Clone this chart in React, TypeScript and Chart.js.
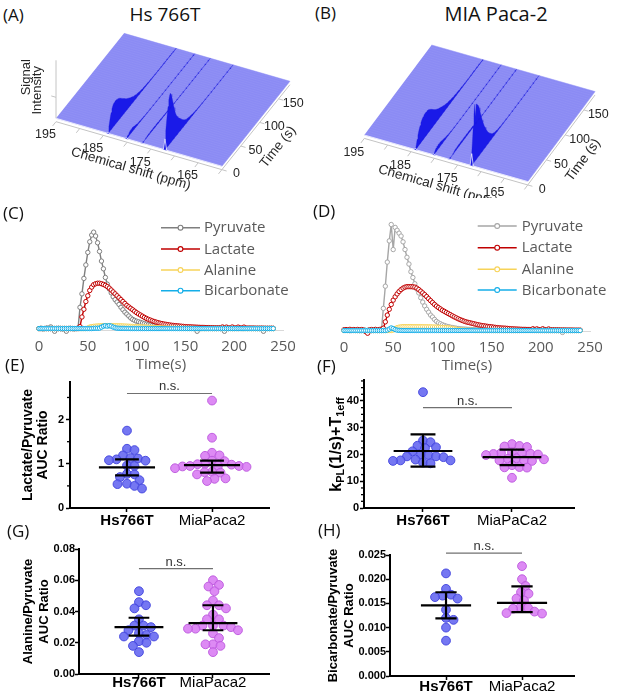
import React, { useEffect, useRef } from "react";
import { Chart, registerables } from "chart.js";
Chart.register(...registerables);

const FONT_ARIAL = '"Liberation Sans", Arial, sans-serif';
const FONT_OPEN = '"Open Sans", sans-serif';

// ---------------- time courses (C: Hs 766T, D: MIA Paca-2), a.u. ----------------
const timeS = [
  0, 2, 4, 6, 8, 10, 12, 14, 16, 18,
  20, 22, 24, 26, 28, 30, 32, 34, 36, 38,
  40, 42, 44, 46, 48, 50, 52, 54, 56, 58,
  60, 62, 64, 66, 68, 70, 72, 74, 76, 78,
  80, 82, 84, 86, 88, 90, 92, 94, 96, 98,
  100, 102, 104, 106, 108, 110, 112, 114, 116, 118,
  120, 122, 124, 126, 128, 130, 132, 134, 136, 138,
  140, 142, 144, 146, 148, 150, 152, 154, 156, 158,
  160, 162, 164, 166, 168, 170, 172, 174, 176, 178,
  180, 182, 184, 186, 188, 190, 192, 194, 196, 198,
  200, 202, 204, 206, 208, 210, 212, 214, 216, 218,
  220, 222, 224, 226, 228, 230, 232, 234, 236, 238,
  240,
];

const pyruvateC = [
  0, 0.4, -0.3, 0, 0.6, 0, 1.7, 0, -2.8, 0,
  0.3, 0, -0.4, 0, -2.8, 0, 0.3, 0, -0.3, 0,
  0.5, 22, 36, 52, 66, 79, 90, 97, 100, 96,
  89, 80, 70, 62, 53, 46, 41, 37, 33, 30,
  27.5, 25, 22, 19.5, 17, 15, 13, 11, 9.5, 8.5,
  7.6, 7, 6.3, 5.7, 5.1, 4.5, 4, 3.6, 3.1, 2.8,
  2.5, 2.2, 2, 1.8, 1.6, 1.4, 1.2, 1.1, 1, 0.9,
  0.8, 0.7, 0.6, 0.5, 0.5, 0.4, 0.3, 0.3, 0.2, 0.2,
  0.2, -2.8, 0.1, 0, 0.2, 0, 0.1, 0, 0.2, 0,
  0.1, 0, 0.2, 0, 0, -2.8, 0.1, 0, 0.2, 0,
  0, 0.1, 0, 0.2, 0, 0, 0.1, 0, 0.2, 0,
  0.1, 0, 0, 0, 0.2, -2.8, 0, 0.1, 0, 0.2,
  0,
];
const lactateC = [
  0, 0, 0, 0, 0, 0, 0, 0, 0, 0,
  0, 0, 0, 0, 0, 0, 0, 0, 0, 0,
  0, 2, 12, 20, 28, 34, 39.5, 43, 45.5, 46.5,
  47, 47, 46.5, 45.8, 44.8, 43.5, 42, 40, 38, 36,
  34, 32, 30, 28, 26, 24, 22.5, 21, 19.5, 18,
  16.5, 15.2, 14, 12.8, 11.6, 10.5, 9.6, 8.8, 8, 7.3,
  6.7, 6.1, 5.6, 5.1, 4.7, 4.4, 4, 3.7, 3.4, 3.2,
  3, 2.8, 2.6, 2.4, 2.2, 2, 1.9, 1.8, 1.7, 1.6,
  1.5, 1.4, 1.3, 1.2, 1.2, 1.1, 1, 1, 0.9, 0.9,
  0.8, 0.8, 0.8, 0.7, 1.6, 0.7, 1.5, 0.7, 0.6, 1.6,
  0.6, 0.6, 1.5, 0.6, 0.5, 1.5, 0.5, 0.5, 0.5, 0.5,
  0.5, 0.4, 0.4, 0.4, 0.4, 0.4, 0.3, 0.3, 0.3, 0.3,
  0.3,
];
const alanineC = [
  0, 0, 0, 0, 0, 0, 0, 0, 0, 0,
  0, 0, 0, 0, 0, 0, 0, 0, 0, 0,
  0, 0, 0, 0, 0, 0.5, 1.5, 2, 2.3, 2.5,
  2.7, 2.8, 3, 3, 3, 3.1, 3, 3, 3, 2.9,
  2.9, 2.8, 2.8, 2.7, 2.6, 2.5, 2.4, 2.3, 2.2, 2.1,
  2, 1.9, 1.8, 1.7, 1.6, 1.5, 1.4, 1.3, 1.2, 1.1,
  1, 0.9, 0.8, 0.7, 0.6, 0.5, 0.5, 0.4, 0.4, 0.3,
  0.3, 0.3, 0.2, 0.2, 0.2, 0.2, 0.1, 0.1, 0.1, 0.1,
  0, 0, 0, 0, 0, 0, 0, 0, 0, 0,
  0, 0, 0, 0, 0, 0, 0, 0, 0, 0,
  0, 0, 0, 0, 0, 0, 0, 0, 0, 0,
  0, 0, 0, 0, 0, 0, 0, 0, 0, 0,
  0,
];
const bicarbonateC = [
  0, 0, 0, 0, 0, 0, 0, 0, 0, 0,
  0, 0, 0, 0, 0, 0, 0, 0, 0, 0,
  0, 0, 0, 0, 0, 0, 0, 0, 0.2, 0.3,
  0.3, 0.5, 1.5, 2.5, 3, 2.5, 3, 2.5, 1.5, 0.8,
  0.4, 0.3, 0.2, 0.2, 0.1, 0.1, 0.1, 0, 0, 0,
  0, 0, 0, 0, 0, 0, 0, 0, 0, 0,
  0, 0, 0, 0, 0, 0, 0, 0, 0, 0,
  0, 0, 0, 0, 0, 0, 0, 0, 0, 0,
  0, 0, 0, 0, 0, 0, 0, 0, 0, 0,
  0, 0, 0, 0, 0, 0, 0, 0, 0, 0,
  0, 0, 0, 0, 0, 0, 0, 0, 0, 0,
  0, 0, 0, 0, 0, 0, 0, 0, 0, 0,
  0,
];

const pyruvateD = [
  0, 0.2, 0, -0.2, 0, 0.2, 0, 0, -0.2, 0,
  0, 0.2, 0, -0.3, 0, 0, 0.2, 0, 0, 0,
  23, 46, 71, 93, 110, 84, 107, 104, 101, 98,
  92, 84, 76, 69, 61, 55, 48.5, 43, 39, 34,
  29.5, 25.5, 22, 19, 16, 14, 11.5, 9.5, 8, 7,
  6, 5.2, 4.5, 4, 3.5, 3.1, 2.7, 2.4, 2.1, 1.8,
  1.6, 1.5, 1.4, 1.2, 1.1, 1, 0.9, 0.8, 0.7, 0.6,
  0.5, 0.5, 0.4, 0.4, 0.3, 0.3, 0.3, 0.2, 0.2, 0.2,
  0.2, 0.1, 0.1, 0.1, 0.1, 0, 0, 0, 0, 0,
  0, 0, 0, 0, 0, 0, 0, 0, 0, 0,
  0, 0, 0, 0, 0, 0, 0, 0, 0, 0,
  0, -2, 0, 0, 0, 0, 0, 0, 0, 0,
  0,
];
const lactateD = [
  0.8, 1, 0.6, 1.2, 0.8, 1, 0.6, 1.1, 0.8, 1,
  0.6, -1, -2.8, 0.8, 1, 0.6, 1.2, 0.8, 1, 1.4,
  2.4, 9, 16, 22, 27, 31.5, 35, 38, 40.5, 42.5,
  44, 45, 45.5, 45.5, 45.5, 45.3, 45, 44, 42.5, 40.8,
  39, 37.2, 35.2, 33, 31, 29, 27, 25.3, 23.8, 22.4,
  21, 19.9, 18.7, 17.6, 16.5, 15.3, 14.2, 13.2, 12.2, 11.3,
  10.5, 9.7, 9, 8.5, 8, 7.5, 7, 6.5, 6, 5.6,
  5.2, 4.9, 4.6, 4.3, 4, 3.8, 3.5, 3.2, 3, 2.8,
  2.6, 2.5, 2.4, 2.2, 2, 1.8, 1.7, 1.6, 1.5, 1.4,
  1.3, 1.2, 1.2, 1.1, 1.1, 1, 1.8, 1, 1.7, 1,
  0.9, 1.8, 0.9, 0.8, 1.6, 0.8, 0.8, 0.7, 0.7, 0.7,
  0.6, 0.6, 0.6, 0.5, 0.5, 0.5, 0.5, 0.4, 0.4, 0.4,
  0.4,
];
const alanineD = [
  0, 0, 0, 0, 0, 0, 0, 0, 0, 0,
  0, 0, 0, 0, 0, 0, 0, 0, 0, 0,
  0, 0, 0, 0, 0, 0.5, 2, 3, 3.5, 3.8,
  4, 4, 4, 4.1, 4.1, 4, 4, 4, 4, 4,
  4, 3.9, 3.9, 3.8, 3.8, 3.7, 3.6, 3.5, 3.4, 3.3,
  3.2, 3.1, 3, 2.8, 2.5, 2.2, 1.8, 1.4, 1, 0.7,
  0.5, 0.4, 0.3, 0.2, 0.2, 0.1, 0.1, 0, 0, 0,
  0, 0, 0, 0, 0, 0, 0, 0, 0, 0,
  0, 0, 0, 0, 0, 0, 0, 0, 0, 0,
  0, 0, 0, 0, 0, 0, 0, 0, 0, 0,
  0, 0, 0, 0, 0, 0, 0, 0, 0, 0,
  0, 0, 0, 0, 0, 0, 0, 0, 0, 0,
  0,
];
const bicarbonateD = [
  0, 0, 0, 0, 0, 0, 0, 0, 0, 0,
  0, 0, 0, 0, 0, 0, 0, 0, 0, 0,
  0, 0, 0.5, 1.5, 2.7, 2, 1, 0.4, 0.2, 0.1,
  0, 0, 0, 0, 0, 0, 0, 0, 0, 0,
  0, 0, 0, 0, 0, 0, 0, 0, 0, 0,
  0, 0, 0, 0, 0, 0, 0, 0, 0, 0,
  0, 0, 0, 0, 0, 0, 0, 0, 0, 0,
  0, 0, 0, 0, 0, 0, 0, 0, 0, 0,
  0, 0, 0, 0, 0, 0, 0, 0, 0, 0,
  0, 0, 0, 0, 0, 0, 0, 0, 0, 0,
  0, 0, 0, 0, 0, 0, 0, 0, 0, 0,
  0, 0, 0, 0, 0, 0, 0, 0, 0, 0,
  0,
];

const metaboliteNames = ["Pyruvate", "Lactate", "Alanine", "Bicarbonate"];
const timeTicks = [0, 50, 100, 150, 200, 250];

// ---------------- 3D spectra (A, B) ----------------
const shiftLactate = 184.0;
const shiftHydrate = 180.1;
const shiftAlanine = 176.8;
const shiftPyruvate = 172.0;
const hydrateRatio = 0.08;
const ppmRange = [195, 160];
const ppmTickValues = [195, 190, 185, 180, 175, 170, 165, 160];
const ppmLabelValues = [195, 185, 175, 165];
const time3DRange = [0, 180];
const time3DLabels = [0, 50, 100, 150];

// ---------------- AUC / kPL scatter (E-H) ----------------
const groupsEH = ["Hs766T", "MiaPaca2"];
const groupsF = ["Hs766T", "MiaPaCa2"];

const lacPyrHs = [1.75, 1.34, 1.31, 1.19, 1.13, 1.12, 1.10, 1.08, 1.07, 0.96, 0.95, 0.77, 0.76, 0.70, 0.63, 0.55, 0.54, 0.50, 0.44];
const lacPyrMia = [2.43, 1.59, 1.25, 1.19, 1.18, 1.07, 1.06, 1.00, 0.99, 0.98, 0.96, 0.95, 0.95, 0.94, 0.93, 0.90, 0.82, 0.81, 0.80, 0.76, 0.67, 0.66, 0.61];
const lacPyrMean = [0.92, 0.97];
const lacPyrLow = [0.74, 0.8];
const lacPyrHigh = [1.1, 1.07];
const lacPyrNs = 2.59;

const kplHs = [43.3, 25.2, 24.6, 23.3, 22.7, 22.4, 21.2, 20.0, 19.8, 19.3, 19.3, 19.0, 18.1, 17.8, 17.8, 17.6, 17.0, 16.7];
const kplMia = [23.9, 23.2, 23.0, 22.8, 20.8, 20.6, 20.5, 20.3, 20.2, 20.0, 19.8, 18.6, 18.4, 18.2, 17.9, 17.8, 17.6, 16.0, 15.3, 15.2, 15.1, 11.3];
const kplMean = [21.3, 19.0];
const kplLow = [15.5, 16.0];
const kplHigh = [27.5, 21.8];
const kplNs = 37.5;

const alaPyrHs = [0.053, 0.046, 0.044, 0.042, 0.035, 0.031, 0.031, 0.030, 0.028, 0.026, 0.025, 0.024, 0.024, 0.021, 0.020, 0.018, 0.014];
const alaPyrMia = [0.060, 0.057, 0.056, 0.053, 0.047, 0.044, 0.044, 0.042, 0.038, 0.035, 0.035, 0.031, 0.031, 0.031, 0.030, 0.029, 0.029, 0.028, 0.026, 0.023, 0.019, 0.019, 0.018, 0.014];
const alaPyrMean = [0.03, 0.0325];
const alaPyrLow = [0.0245, 0.028];
const alaPyrHigh = [0.036, 0.044];
const alaPyrNs = 0.0675;

const bicPyrHs = [0.0212, 0.0180, 0.0168, 0.0166, 0.0163, 0.0160, 0.0137, 0.0120, 0.0116, 0.0100, 0.0073];
const bicPyrMia = [0.0227, 0.0200, 0.0186, 0.0173, 0.0170, 0.0160, 0.0156, 0.0142, 0.0141, 0.0139, 0.0133, 0.0130, 0.0129];
const bicPyrMean = [0.0146, 0.0151];
const bicPyrLow = [0.0119, 0.0132];
const bicPyrHigh = [0.0173, 0.0185];
const bicPyrNs = 0.0254;

const ticksE = [0, 1, 2];
const ticksF = [0, 10, 20, 30, 40];
const ticksG = [0, 0.02, 0.04, 0.06, 0.08];
const ticksH = [0, 0.005, 0.01, 0.015, 0.02, 0.025];

// ---------------- helpers ----------------
function useChart(make: (c: HTMLCanvasElement) => Chart) {
  const ref = useRef<HTMLCanvasElement>(null);
  useEffect(() => {
    const chart = make(ref.current as HTMLCanvasElement);
    return () => chart.destroy();
  }, []);
  return ref;
}

function Canvas({ left, top, width, height, make }: any) {
  const ref = useChart(make);
  return (
    <canvas
      ref={ref}
      width={width}
      height={height}
      style={{ position: "absolute", left, top, width, height }}
    />
  );
}

// ---------------- 3D waterfall ----------------
function make3D(canvas: HTMLCanvasElement, cfg: any) {
  const g = cfg.geo;
  const P = (ppm: number, t: number, I = 0) => ({
    x: g.ox + (195 - ppm) * g.ux + t * g.vx,
    y: g.oy + (195 - ppm) * g.uy + t * g.vy - I * g.h,
  });
  const PA = (ppm: number, t: number) => {
    const p = P(ppm, t);
    return { x: p.x, y: p.y + g.drop };
  };
  const GAP = { x: null, y: null };
  const [pHi, pLo] = ppmRange;
  const [t0, t1] = time3DRange;
  const common = { showLine: true, pointRadius: 0, clip: false, tension: 0, spanGaps: false };
  const ds: any[] = [];

  ds.push({
    ...common,
    data: [P(pHi, t0), P(pLo, t0), P(pLo, t1), P(pHi, t1)],
    fill: "shape",
    backgroundColor: "#8b8bf4",
    borderColor: "#8b8bf4",
    borderWidth: 0.5,
    order: 30,
  });

  const slices: any[] = [];
  timeS.forEach((t, i) => {
    const t3 = t - g.tOffset;
    if (t3 <= 0 || t3 > t1 || i % 2) return;
    slices.push(P(pHi, t3), P(pLo, t3), GAP);
  });
  ds.push({ ...common, data: slices, borderColor: "rgba(255,255,255,0.08)", borderWidth: 0.6, order: 25 });

  const w = 0.35;
  cfg.peaks.forEach((pk: any, n: number) => {
    const apex: any[] = [];
    const base: any[] = [];
    timeS.forEach((t, i) => {
      const t3 = t - g.tOffset;
      if (t3 < t0 || t3 > t1) return;
      const I = Math.max(0, pk.values[i] * pk.k);
      apex.push(P(pk.ppm, t3, I));
      base.push(P(pk.ppm, t3, 0));
    });
    ds.push({
      ...common,
      data: [P(pk.ppm + w, 0, 0), ...apex, ...base.reverse(), P(pk.ppm - w, 0, 0)],
      fill: "shape",
      backgroundColor: "#1a1ae8",
      borderColor: "rgba(26,26,220,0.5)",
      borderWidth: 0.6,
      order: 10 + n,
    });
  });

  const front: any[] = [];
  const sortedPeaks = [...cfg.peaks].sort((a: any, b: any) => b.ppm - a.ppm);
  timeS.forEach((t, i) => {
    const t3 = t - g.tOffset;
    if (t3 !== 0) return;
    front.push(P(pHi, t3));
    sortedPeaks.forEach((pk: any) => {
      front.push(P(pk.ppm + w, t3), P(pk.ppm, t3, Math.max(0, pk.values[i] * pk.k)), P(pk.ppm - w, t3));
    });
    front.push(P(pLo, t3), GAP);
  });
  ds.push({ ...common, data: front, borderColor: "rgba(255,255,255,0.9)", borderWidth: 0.8, order: 5 });

  const axes: any[] = [PA(pHi, 0), PA(pLo, 0), GAP, PA(pLo, 0), PA(pLo, t1), GAP];
  ppmTickValues.forEach((v) => axes.push(PA(v, 0), PA(v, -9), GAP));
  time3DLabels.forEach((t) => axes.push(PA(pLo, t), PA(pLo - 1, t), GAP));
  if (cfg.intensityAxis) {
    axes.push(P(pHi, 0, 0), P(pHi, 0, 116), GAP, P(pHi, 0, 42), P(pHi + 1, 0, 42), GAP);
  }
  ds.push({ ...common, data: axes, borderColor: "#c4c4c4", borderWidth: 1, order: 1 });

  const textPlugin = {
    id: "text3d",
    afterDatasetsDraw(chart: any) {
      const ctx = chart.ctx;
      const sx = chart.scales.x;
      const sy = chart.scales.y;
      const pix = (p: any) => [sx.getPixelForValue(p.x), sy.getPixelForValue(p.y)];
      ctx.save();
      ctx.fillStyle = "#262626";
      ctx.textAlign = "center";
      ctx.textBaseline = "middle";
      ctx.font = `12.5px ${FONT_ARIAL}`;
      ppmLabelValues.forEach((v) => {
        const [x, y] = pix(PA(v, -28));
        ctx.fillText(String(v), x, y);
      });
      time3DLabels.forEach((t) => {
        const [x, y] = pix(PA(156.9, t));
        ctx.fillText(String(t), x, y);
      });
      ctx.font = `13.5px ${FONT_ARIAL}`;
      {
        const [x, y] = pix(PA(175.7, -44));
        ctx.save();
        ctx.translate(x, y);
        ctx.rotate(Math.atan2(g.uy, g.ux));
        ctx.fillText("Chemical shift (ppm)", 0, 0);
        ctx.restore();
      }
      {
        const [x, y] = pix(PA(153.5, 67));
        ctx.save();
        ctx.translate(x, y);
        ctx.rotate(Math.atan2(g.vy, g.vx));
        ctx.fillText("Time (s)", 0, 0);
        ctx.restore();
      }
      if (cfg.intensityAxis) {
        const a = P(pHi, 0, 82);
        const b = P(pHi, 0, 56);
        const [x1, y1] = pix({ x: a.x - 30, y: a.y });
        const [x2, y2] = pix({ x: b.x - 19, y: b.y });
        ctx.font = `13px ${FONT_ARIAL}`;
        ctx.save();
        ctx.translate(x1, y1);
        ctx.rotate(-Math.PI / 2);
        ctx.fillText("Signal", 0, 0);
        ctx.restore();
        ctx.save();
        ctx.translate(x2, y2);
        ctx.rotate(-Math.PI / 2);
        ctx.fillText("Intensity", 0, 0);
        ctx.restore();
      }
      ctx.restore();
    },
  };

  return new Chart(canvas, {
    type: "scatter",
    data: { datasets: ds },
    options: {
      animation: false,
      responsive: false,
      events: [],
      layout: { padding: 0 },
      scales: {
        x: { type: "linear", display: false, min: 0, max: cfg.width },
        y: { type: "linear", display: false, min: 0, max: cfg.height, reverse: true },
      },
      plugins: { legend: { display: false }, tooltip: { enabled: false } },
    } as any,
    plugins: [textPlugin],
  });
}

// ---------------- time-course line chart ----------------
function makeTimeCourse(canvas: HTMLCanvasElement, cfg: any) {
  const legendPlugin = {
    id: "tcLegend",
    afterDraw(chart: any) {
      const ctx = chart.ctx;
      const L = cfg.legend;
      ctx.save();
      cfg.series.forEach((s: any, k: number) => {
        const y = L.ys[k];
        ctx.strokeStyle = s.color;
        ctx.lineWidth = 1.5;
        ctx.beginPath();
        ctx.moveTo(L.x0, y);
        ctx.lineTo(L.x1, y);
        ctx.stroke();
        ctx.beginPath();
        ctx.arc((L.x0 + L.x1) / 2, y, 2.4, 0, Math.PI * 2);
        ctx.fillStyle = "#fff";
        ctx.fill();
        ctx.lineWidth = 1.1;
        ctx.stroke();
        ctx.fillStyle = "#595959";
        ctx.font = `15px ${FONT_OPEN}`;
        ctx.textBaseline = "middle";
        ctx.textAlign = "left";
        ctx.fillText(s.label, L.tx, y + 0.5);
      });
      ctx.restore();
    },
  };
  const n = cfg.series.length;
  return new Chart(canvas, {
    type: "line",
    data: {
      datasets: cfg.series.map((s: any, k: number) => ({
        label: s.label,
        data: timeS.map((t, i) => ({ x: t, y: s.values[i] })),
        borderColor: s.color,
        backgroundColor: "#fff",
        borderWidth: 1.4,
        pointRadius: 2.2,
        pointBorderWidth: 1,
        pointBackgroundColor: "#fff",
        pointBorderColor: s.color,
        tension: 0,
        clip: false,
        order: n - k,
      })),
    },
    options: {
      animation: false,
      responsive: false,
      events: [],
      layout: { padding: { left: cfg.padLeft, right: cfg.padRight, top: cfg.padTop, bottom: 0 } },
      scales: {
        x: {
          type: "linear",
          min: 0,
          max: 250,
          afterBuildTicks: (s: any) => {
            s.ticks = timeTicks.map((v) => ({ value: v }));
          },
          ticks: { color: "#595959", font: { family: FONT_OPEN, size: 15 }, padding: 8, maxRotation: 0, autoSkip: false },
          grid: { display: false, drawTicks: false },
          border: { display: true, color: "#d9d9d9", width: 1 },
          title: {
            display: true,
            text: "Time(s)",
            color: "#595959",
            font: { family: FONT_OPEN, size: 15 },
            padding: { top: 0, bottom: 1 },
          },
          afterFit: (s: any) => {
            s.height = 45;
          },
        },
        y: { display: false, min: cfg.ymin, max: cfg.ymax },
      },
      plugins: { legend: { display: false }, tooltip: { enabled: false } },
    } as any,
    plugins: [legendPlugin],
  });
}

// ---------------- scatter (dot plot) ----------------
function swarm(vals: number[], center: number, pxY: number, pxX: number, diam: number) {
  const idx = vals.map((_, i) => i).sort((a, b) => vals[b] - vals[a]);
  const placed: number[][] = [];
  const out: number[] = vals.map(() => center);
  for (const i of idx) {
    const py = vals[i] * pxY;
    let off = 0;
    for (let k = 0; k < 400; k++) {
      const cand = k === 0 ? 0 : (k % 2 ? 1 : -1) * Math.ceil(k / 2) * 0.5;
      if (placed.every(([qx, qy]) => Math.hypot(qx - cand, qy - py) >= diam)) {
        off = cand;
        break;
      }
    }
    placed.push([off, py]);
    out[i] = center + off / pxX;
  }
  return out;
}

function makeScatter(canvas: HTMLCanvasElement, c: any) {
  const plotW = c.width - c.yW - c.padRight;
  const plotH = c.height - c.padTop - c.xH;
  const pxX = plotW / (c.xmax - c.xmin);
  const pxY = plotH / (c.ymax - c.ymin);
  const colors = [
    { bg: "rgba(98,100,240,0.88)", bd: "rgba(70,72,222,0.95)" },
    { bg: "rgba(216,122,242,0.88)", bd: "rgba(190,92,222,0.95)" },
  ];
  const ds: any[] = [];
  c.groups.forEach((vals: number[], gi: number) => {
    const xs = swarm(vals, gi, pxY, pxX, 7.5);
    ds.push({
      data: vals.map((v, i) => ({ x: xs[i], y: v })),
      showLine: false,
      pointRadius: 4.4,
      pointBorderWidth: 1,
      backgroundColor: colors[gi].bg,
      borderColor: colors[gi].bd,
      clip: false,
      order: 5 + gi,
    });
  });
  const GAP = { x: null, y: null };
  const bars: any[] = [];
  [0, 1].forEach((gi) => {
    const m = c.mean[gi];
    const lo = c.lo[gi];
    const hi = c.hi[gi];
    bars.push(
      { x: gi - 0.33, y: m }, { x: gi + 0.33, y: m }, GAP,
      { x: gi - 0.14, y: hi }, { x: gi + 0.14, y: hi }, GAP,
      { x: gi, y: hi }, { x: gi, y: lo }, GAP,
      { x: gi - 0.14, y: lo }, { x: gi + 0.14, y: lo }, GAP
    );
  });
  ds.push({ data: bars, showLine: true, pointRadius: 0, borderColor: "#000", borderWidth: 2.2, spanGaps: false, clip: false, order: 1 });
  ds.push({
    data: [{ x: 0, y: c.ns }, { x: 1, y: c.ns }],
    showLine: true,
    pointRadius: 0,
    borderColor: "#707070",
    borderWidth: 1.2,
    clip: false,
    order: 0,
  });

  const extra = {
    id: "scatterExtra",
    afterDraw(chart: any) {
      const ctx = chart.ctx;
      const sx = chart.scales.x;
      const sy = chart.scales.y;
      ctx.save();
      if (c.minor) {
        ctx.strokeStyle = "#000";
        ctx.lineWidth = 1.3;
        const ax = chart.chartArea.left;
        for (let v = c.ymin; v <= c.ymax + 1e-9; v += c.minor) {
          if (c.majors.some((m: number) => Math.abs(m - v) < 1e-9)) continue;
          const y = sy.getPixelForValue(v);
          ctx.beginPath();
          ctx.moveTo(ax - 3, y);
          ctx.lineTo(ax, y);
          ctx.stroke();
        }
      }
      ctx.fillStyle = "#333";
      ctx.font = `13px ${FONT_ARIAL}`;
      ctx.textAlign = "center";
      ctx.textBaseline = "alphabetic";
      ctx.fillText("n.s.", sx.getPixelForValue(0.5), sy.getPixelForValue(c.ns) - 3);
      if (c.customTitle) {
        ctx.save();
        ctx.translate(c.customTitle.x, c.customTitle.y);
        ctx.rotate(-Math.PI / 2);
        ctx.fillStyle = "#000";
        ctx.textBaseline = "middle";
        ctx.textAlign = "left";
        const parts = c.customTitle.parts;
        let total = 0;
        parts.forEach((p: any) => {
          ctx.font = `bold ${p.size}px ${FONT_ARIAL}`;
          total += ctx.measureText(p.text).width;
        });
        let x = -total / 2;
        parts.forEach((p: any) => {
          ctx.font = `bold ${p.size}px ${FONT_ARIAL}`;
          ctx.fillText(p.text, x, p.dy);
          x += ctx.measureText(p.text).width;
        });
        ctx.restore();
      }
      ctx.restore();
    },
  };

  return new Chart(canvas, {
    type: "scatter",
    data: { datasets: ds },
    options: {
      animation: false,
      responsive: false,
      events: [],
      layout: { padding: { left: 0, right: c.padRight, top: c.padTop, bottom: 0 } },
      scales: {
        x: {
          type: "linear",
          min: c.xmin,
          max: c.xmax,
          afterBuildTicks: (s: any) => {
            s.ticks = [{ value: 0 }, { value: 1 }];
          },
          ticks: {
            callback: (v: any) => c.cats[Math.round(v)],
            color: "#000",
            font: (ctx: any) => ({ family: FONT_ARIAL, size: 15, weight: ctx.index === 0 ? "bold" : "normal", lineHeight: 1 }),
            padding: c.labelPad,
            maxRotation: 0,
            autoSkip: false,
          },
          grid: { display: true, drawOnChartArea: false, drawTicks: true, tickLength: 4, tickColor: "#000", tickWidth: 1.5 },
          border: { display: true, color: "#000", width: 2 },
          afterFit: (s: any) => {
            s.height = c.xH;
          },
        },
        y: {
          type: "linear",
          min: c.ymin,
          max: c.ymax,
          afterBuildTicks: (s: any) => {
            s.ticks = c.majors.map((v: number) => ({ value: v }));
          },
          ticks: {
            callback: (v: any) => c.fmt(v),
            color: "#000",
            font: { family: FONT_ARIAL, size: 11, weight: "bold" },
            padding: c.tickPad,
            autoSkip: false,
          },
          grid: { display: true, drawOnChartArea: false, drawTicks: true, tickLength: 4, tickColor: "#000", tickWidth: 1.5 },
          border: { display: true, color: "#000", width: 2 },
          title: c.title
            ? {
                display: true,
                text: c.title,
                color: "#000",
                font: { family: FONT_ARIAL, size: c.titleSize, weight: "bold", lineHeight: c.titleLH },
                padding: { top: c.titlePad, bottom: 0 },
              }
            : { display: false },
          afterFit: (s: any) => {
            s.width = c.yW;
          },
        },
      },
      plugins: { legend: { display: false }, tooltip: { enabled: false } },
    } as any,
    plugins: [extra],
  });
}

// ---------------- configs ----------------
const cfg3DA = {
  width: 305,
  height: 165,
  intensityAxis: true,
  geo: { ox: 56, oy: 90.3, ux: 4.74, uy: 1.37, vx: 0.378, vy: -0.472, h: 0.5, drop: 3.4, tOffset: 42 },
  peaks: [
    { ppm: shiftLactate, values: lactateC, k: 1 },
    { ppm: shiftHydrate, values: pyruvateC, k: hydrateRatio },
    { ppm: shiftAlanine, values: alanineC, k: 1 },
    { ppm: shiftPyruvate, values: pyruvateC, k: 1 },
  ],
};
const cfg3DB = {
  width: 312,
  height: 170,
  intensityAxis: false,
  geo: { ox: 59.3, oy: 107, ux: 4.67, uy: 1.33, vx: 0.374, vy: -0.5, h: 0.52, drop: 3.4, tOffset: 40 },
  peaks: [
    { ppm: shiftLactate, values: lactateD, k: 1 },
    { ppm: shiftHydrate, values: pyruvateD, k: hydrateRatio },
    { ppm: shiftAlanine, values: alanineD, k: 1 },
    { ppm: shiftPyruvate, values: pyruvateD, k: 1 },
  ],
};

const cfgC = {
  padLeft: 39,
  padRight: 22,
  padTop: 10.8,
  ymin: -1.5,
  ymax: 118,
  series: [
    { label: metaboliteNames[0], values: pyruvateC, color: "#7f7f7f" },
    { label: metaboliteNames[1], values: lactateC, color: "#c00000" },
    { label: metaboliteNames[2], values: alanineC, color: "#f7d358" },
    { label: metaboliteNames[3], values: bicarbonateC, color: "#14aee8" },
  ],
  legend: { x0: 161, x1: 200, tx: 204, ys: [23.7, 45, 66, 86.7] },
};
const cfgD = {
  padLeft: 39,
  padRight: 27,
  padTop: 12.8,
  ymin: -0.5,
  ymax: 118,
  series: [
    { label: metaboliteNames[0], values: pyruvateD, color: "#a6a6a6" },
    { label: metaboliteNames[1], values: lactateD, color: "#c00000" },
    { label: metaboliteNames[2], values: alanineD, color: "#f7d358" },
    { label: metaboliteNames[3], values: bicarbonateD, color: "#14aee8" },
  ],
  legend: { x0: 172.7, x1: 211.7, tx: 216.7, ys: [22, 43.7, 65.3, 86] },
};

const cfgE = {
  width: 290, height: 165, yW: 70, padTop: 10, padRight: 21, xH: 29,
  ymin: 0, ymax: 2.85, majors: ticksE, minor: 0.5, fmt: (v: number) => String(v), tickPad: 2,
  xmin: -0.67, xmax: 1.67, cats: groupsEH, labelPad: 1,
  groups: [lacPyrHs, lacPyrMia], mean: lacPyrMean, lo: lacPyrLow, hi: lacPyrHigh, ns: lacPyrNs,
  title: ["Lactate/Pyruvate", "AUC Ratio"], titleSize: 14, titleLH: 15 / 14, titlePad: 20.5,
};
const cfgF = {
  width: 290, height: 165, yW: 59, padTop: 5, padRight: 21, xH: 29,
  ymin: 0, ymax: 48, majors: ticksF, minor: 2.5, fmt: (v: number) => String(v), tickPad: 1,
  xmin: -0.663, xmax: 1.697, cats: groupsF, labelPad: 1,
  groups: [kplHs, kplMia], mean: kplMean, lo: kplLow, hi: kplHigh, ns: kplNs,
  title: null,
  customTitle: {
    x: 31.7,
    y: 72.5,
    parts: [
      { text: "k", size: 16, dy: 0 },
      { text: "PL", size: 11, dy: 4 },
      { text: "(1/s)", size: 16, dy: 0 },
      { text: "+T", size: 16, dy: 0 },
      { text: "1eff", size: 11, dy: 4 },
    ],
  },
};
const cfgG = {
  width: 290, height: 155, yW: 79, padTop: 9, padRight: 21, xH: 21,
  ymin: 0, ymax: 0.08, majors: ticksG, minor: 0, fmt: (v: number) => v.toFixed(2), tickPad: 0,
  xmin: -0.81, xmax: 1.757, cats: groupsEH, labelPad: -2.5,
  groups: [alaPyrHs, alaPyrMia], mean: alaPyrMean, lo: alaPyrLow, hi: alaPyrHigh, ns: alaPyrNs,
  title: ["Alanine/Pyruvate", "AUC Ratio"], titleSize: 13, titleLH: 1.26, titlePad: 20.1,
};
const cfgH = {
  width: 290, height: 155, yW: 85, padTop: 15, padRight: 21, xH: 19,
  ymin: 0, ymax: 0.025, majors: ticksH, minor: 0, fmt: (v: number) => v.toFixed(3), tickPad: 0,
  xmin: -0.737, xmax: 1.684, cats: groupsEH, labelPad: -1,
  groups: [bicPyrHs, bicPyrMia], mean: bicPyrMean, lo: bicPyrLow, hi: bicPyrHigh, ns: bicPyrNs,
  title: ["Bicarbonate/Pyruvate", "AUC Ratio"], titleSize: 13, titleLH: 1.26, titlePad: 20.1,
};

function Label({ text, x, cy, size = 17, center = false }: any) {
  return (
    <div
      style={{
        position: "absolute",
        left: center ? x - 100 : x,
        width: center ? 200 : "auto",
        textAlign: center ? "center" : "left",
        top: cy - 12,
        height: 24,
        lineHeight: "24px",
        fontFamily: FONT_OPEN,
        fontSize: size,
        color: "#111",
        whiteSpace: "nowrap",
      }}
    >
      {text}
    </div>
  );
}

export default function App() {
  return (
    <div
      style={{
        position: "absolute",
        left: 0,
        top: 0,
        width: 617,
        height: 695,
        background: "#fff",
        overflow: "hidden",
      }}
    >
      <Canvas left={0} top={28} width={305} height={165} make={(c: HTMLCanvasElement) => make3D(c, cfg3DA)} />
      <Canvas left={305} top={28} width={312} height={170} make={(c: HTMLCanvasElement) => make3D(c, cfg3DB)} />
      <Canvas left={0} top={204} width={305} height={171} make={(c: HTMLCanvasElement) => makeTimeCourse(c, cfgC)} />
      <Canvas left={305} top={204} width={312} height={172} make={(c: HTMLCanvasElement) => makeTimeCourse(c, cfgD)} />
      <Canvas left={0} top={372} width={290} height={165} make={(c: HTMLCanvasElement) => makeScatter(c, cfgE)} />
      <Canvas left={305} top={372} width={290} height={165} make={(c: HTMLCanvasElement) => makeScatter(c, cfgF)} />
      <Canvas left={0} top={540} width={290} height={155} make={(c: HTMLCanvasElement) => makeScatter(c, cfgG)} />
      <Canvas left={305} top={540} width={290} height={155} make={(c: HTMLCanvasElement) => makeScatter(c, cfgH)} />

      <Label text="(A)" x={3} cy={14.5} />
      <Label text="Hs 766T" x={165} cy={13.5} size={19} center />
      <Label text="(B)" x={315} cy={12.5} />
      <Label text="MIA Paca-2" x={496} cy={13.5} size={20} center />
      <Label text="(C)" x={3} cy={212.5} />
      <Label text="(D)" x={313} cy={210.5} />
      <Label text="(E)" x={5} cy={365} />
      <Label text="(F)" x={317} cy={366} />
      <Label text="(G)" x={7} cy={530.5} />
      <Label text="(H)" x={318} cy={530} />
    </div>
  );
}
